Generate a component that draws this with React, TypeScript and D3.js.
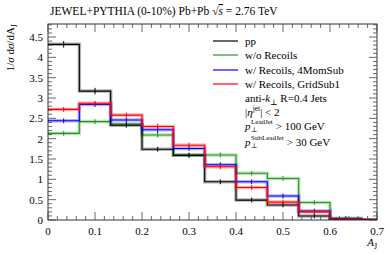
import React, { useEffect, useRef } from 'react';
import * as d3 from 'd3';

// bin edges (A_J), 15 bins in [0,1], last one is empty
const edges = [0, 1 / 15, 2 / 15, 3 / 15, 4 / 15, 5 / 15, 6 / 15, 7 / 15, 8 / 15, 9 / 15, 10 / 15, 11 / 15];

const ppVals = [4.32, 3.17, 2.33, 1.74, 1.59, 0.94, 0.49, 0.37, 0.1, 0.02, 0];
const ppErr = [0.08, 0.08, 0.06, 0.06, 0.06, 0.05, 0.05, 0.05, 0.03, 0.01, 0];
const noRecVals = [2.13, 2.42, 2.36, 2.09, 1.6, 1.6, 1.15, 1.02, 0.43, 0.04, 0];
const noRecErr = [0.04, 0.06, 0.06, 0.06, 0.06, 0.06, 0.04, 0.04, 0.03, 0.01, 0];
const momVals = [2.44, 2.84, 2.46, 2.22, 1.76, 1.36, 0.94, 0.59, 0.22, 0.02, 0];
const momErr = [0.04, 0.05, 0.05, 0.08, 0.06, 0.06, 0.04, 0.04, 0.02, 0.01, 0];
const gridVals = [2.72, 2.87, 2.58, 2.3, 1.84, 1.31, 0.8, 0.44, 0.2, 0.01, 0];
const gridErr = [0.04, 0.05, 0.06, 0.07, 0.06, 0.06, 0.04, 0.04, 0.02, 0.01, 0];

const seriesNames = ['pp', 'w/o Recoils', 'w/ Recoils, 4MomSub', 'w/ Recoils, GridSub1'];
const seriesColors = ['#000000', '#1f9a1f', '#0000ff', '#ff0000'];

const xTicks = [0, 0.1, 0.2, 0.3, 0.4, 0.5, 0.6, 0.7];
const yTicks = [0, 0.5, 1, 1.5, 2, 2.5, 3, 3.5, 4, 4.5];

const W = 390;
const H = 254;
const margin = { top: 24, right: 13, bottom: 34, left: 48 };
const FONT = '"Liberation Serif", "DejaVu Serif", serif';

export default function App() {
  const svgRef = useRef<SVGSVGElement | null>(null);

  useEffect(() => {
    const svg = d3.select(svgRef.current);
    svg.selectAll('*').remove();

    const x = d3.scaleLinear().domain([0, 0.7]).range([margin.left, W - margin.right]);
    const y = d3.scaleLinear().domain([0, 4.82]).range([H - margin.bottom, margin.top]);

    svg.append('defs').append('clipPath').attr('id', 'plotclip')
      .append('rect')
      .attr('x', margin.left).attr('y', margin.top)
      .attr('width', W - margin.left - margin.right)
      .attr('height', H - margin.top - margin.bottom);

    const plot = svg.append('g').attr('clip-path', 'url(#plotclip)');

    const series = [
      { vals: ppVals, err: ppErr },
      { vals: noRecVals, err: noRecErr },
      { vals: momVals, err: momErr },
      { vals: gridVals, err: gridErr },
    ];

    // green underneath, then pp, blue, red
    const order = [1, 0, 2, 3];
    order.forEach((si) => {
      const s = series[si];
      const col = seriesColors[si];
      const pts: [number, number][] = [];
      s.vals.forEach((v, i) => {
        pts.push([edges[i], v]);
        pts.push([edges[i + 1], v]);
      });
      const line = d3.line<[number, number]>().x((d) => x(d[0])).y((d) => y(d[1]));
      // light halo (error band look)
      plot.append('path').datum(pts)
        .attr('fill', 'none').attr('stroke', col).attr('stroke-opacity', 0.3)
        .attr('stroke-width', 3.5).attr('d', line);
      plot.append('path').datum(pts)
        .attr('fill', 'none').attr('stroke', col).attr('stroke-width', 1.1).attr('d', line);
      s.vals.forEach((v, i) => {
        if (v <= 0) return;
        const cx = x((edges[i] + edges[i + 1]) / 2);
        const e = Math.max(s.err[i], 0.06);
        plot.append('line')
          .attr('x1', cx).attr('x2', cx)
          .attr('y1', y(v - e)).attr('y2', y(v + e))
          .attr('stroke', col).attr('stroke-width', 1);
      });
    });

    // frame
    svg.append('rect')
      .attr('x', margin.left).attr('y', margin.top)
      .attr('width', W - margin.left - margin.right)
      .attr('height', H - margin.top - margin.bottom)
      .attr('fill', 'none').attr('stroke', '#000').attr('stroke-width', 0.8);

    const axisCol = '#444';
    // x ticks, bottom and top
    const xMinor = d3.range(0, 0.7001, 0.02);
    xMinor.forEach((t) => {
      const major = xTicks.some((m) => Math.abs(m - t) < 1e-6);
      const len = major ? 8 : 4;
      const px = x(t);
      svg.append('line').attr('x1', px).attr('x2', px)
        .attr('y1', y(0)).attr('y2', y(0) - len).attr('stroke', axisCol).attr('stroke-width', 0.8);
      svg.append('line').attr('x1', px).attr('x2', px)
        .attr('y1', margin.top).attr('y2', margin.top + len).attr('stroke', axisCol).attr('stroke-width', 0.8);
    });
    xTicks.forEach((t) => {
      svg.append('text').attr('x', x(t)).attr('y', y(0) + 15)
        .attr('text-anchor', 'middle').attr('font-family', FONT).attr('font-size', 11)
        .text(String(t));
    });

    // y ticks, left and right
    const yMinor = d3.range(0, 4.81, 0.1);
    yMinor.forEach((t) => {
      const major = yTicks.some((m) => Math.abs(m - t) < 1e-6);
      const len = major ? 8 : 4;
      const py = y(t);
      svg.append('line').attr('x1', margin.left).attr('x2', margin.left + len)
        .attr('y1', py).attr('y2', py).attr('stroke', axisCol).attr('stroke-width', 0.8);
      svg.append('line').attr('x1', W - margin.right).attr('x2', W - margin.right - len)
        .attr('y1', py).attr('y2', py).attr('stroke', axisCol).attr('stroke-width', 0.8);
    });
    yTicks.forEach((t) => {
      svg.append('text').attr('x', margin.left - 5).attr('y', y(t) + 4)
        .attr('text-anchor', 'end').attr('font-family', FONT).attr('font-size', 11)
        .text(String(t));
    });

    // title
    const title = svg.append('text').attr('x', 50).attr('y', 15)
      .attr('font-family', FONT).attr('font-size', 11.5);
    title.append('tspan').text('JEWEL+PYTHIA (0-10%) Pb+Pb ');
    title.append('tspan').text('\u221A');
    title.append('tspan').attr('text-decoration', 'overline').attr('font-style', 'italic').text('s');
    title.append('tspan').text(' = 2.76 TeV');

    // y label
    const yl = svg.append('text')
      .attr('transform', `translate(14, ${margin.top}) rotate(-90)`)
      .attr('text-anchor', 'end').attr('font-family', FONT).attr('font-size', 11);
    yl.append('tspan').text('1/');
    yl.append('tspan').attr('font-style', 'italic').text('\u03C3');
    yl.append('tspan').text(' d');
    yl.append('tspan').attr('font-style', 'italic').text('\u03C3');
    yl.append('tspan').text('/dA');
    yl.append('tspan').attr('font-size', 8).attr('dy', 3).text('J');

    // x label
    const xl = svg.append('text').attr('x', W - margin.right).attr('y', H - 8)
      .attr('text-anchor', 'end').attr('font-family', FONT).attr('font-size', 11);
    xl.append('tspan').attr('font-style', 'italic').text('A');
    xl.append('tspan').attr('font-size', 8).attr('dy', 3).text('J');

    // legend
    const lx = 213;
    const ly = [41, 55, 70, 84];
    seriesNames.forEach((n, i) => {
      svg.append('line').attr('x1', lx).attr('x2', lx + 25)
        .attr('y1', ly[i]).attr('y2', ly[i])
        .attr('stroke', seriesColors[i]).attr('stroke-width', 1.2);
      svg.append('text').attr('x', lx + 32).attr('y', ly[i] + 4)
        .attr('font-family', FONT).attr('font-size', 11).text(n);
    });

    const tx = lx + 32;
    const a1 = svg.append('text').attr('x', tx).attr('y', 102).attr('font-family', FONT).attr('font-size', 11);
    a1.append('tspan').text('anti-');
    a1.append('tspan').attr('font-style', 'italic').text('k');
    a1.append('tspan').attr('font-size', 8).attr('dy', 3).text('\u22A5');
    a1.append('tspan').attr('dy', -3).text(' R=0.4 Jets');

    const a2 = svg.append('text').attr('x', tx).attr('y', 116).attr('font-family', FONT).attr('font-size', 11);
    a2.append('tspan').text('|');
    a2.append('tspan').attr('font-style', 'italic').text('\u03B7');
    a2.append('tspan').attr('font-size', 7.5).attr('dy', -5).text('jet');
    a2.append('tspan').attr('dy', 5).text('| < 2');

    // p_T cuts: superscript and subscript drawn as separate texts so they stack
    const cuts = [
      { sup: 'LeadJet', rest: '> 100 GeV', yy: 130 },
      { sup: 'SubLeadJet', rest: '> 30 GeV', yy: 146 },
    ];
    cuts.forEach((c) => {
      svg.append('text').attr('x', tx).attr('y', c.yy)
        .attr('font-family', FONT).attr('font-size', 11).attr('font-style', 'italic').text('p');
      const sup = svg.append('text').attr('x', tx + 6).attr('y', c.yy - 6)
        .attr('font-family', FONT).attr('font-size', 7).text(c.sup);
      svg.append('text').attr('x', tx + 6).attr('y', c.yy + 2)
        .attr('font-family', FONT).attr('font-size', 7).text('\u22A5');
      const sw = (sup.node() as SVGTextElement).getComputedTextLength();
      svg.append('text').attr('x', tx + 6 + sw + 3).attr('y', c.yy)
        .attr('font-family', FONT).attr('font-size', 11).text(c.rest);
    });
  }, []);

  return (
    <svg
      ref={svgRef}
      width={W}
      height={H}
      style={{ position: 'absolute', left: 0, top: 0, background: '#fff' }}
    />
  );
}
